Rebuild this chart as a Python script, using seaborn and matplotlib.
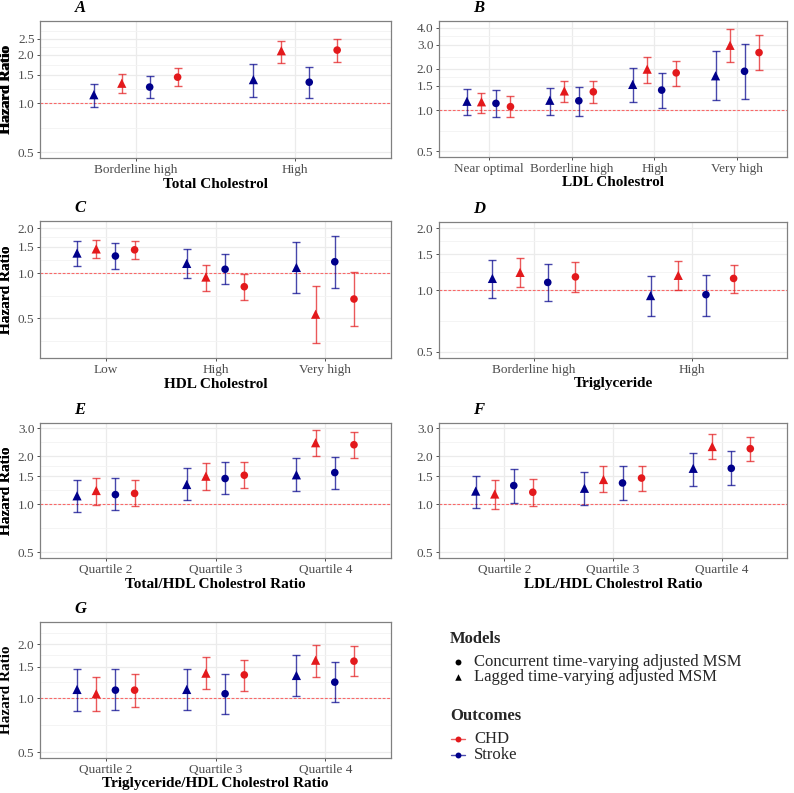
import numpy as np
import pandas as pd
import matplotlib
matplotlib.use("Agg")
import matplotlib.pyplot as plt
import seaborn as sns
from matplotlib.ticker import FixedLocator, FixedFormatter, NullFormatter

sns.set_theme(style="white")
plt.rcParams['font.family'] = ['Liberation Serif', 'DejaVu Serif']

# ---------------- data ----------------
# series order inside each category (left -> right)
SERIES_OUTCOME = ["Stroke", "CHD", "Stroke", "CHD"]
SERIES_MODEL = ["Lagged", "Lagged", "Concurrent", "Concurrent"]

# Panel A: Total Cholestrol
A_cats = ["Borderline high", "High"]
A_est = [[1.13, 1.33, 1.26, 1.45], [1.40, 2.11, 1.35, 2.13]]
A_lo = [[0.95, 1.16, 1.08, 1.28], [1.09, 1.77, 1.08, 1.80]]
A_hi = [[1.32, 1.51, 1.47, 1.65], [1.74, 2.44, 1.68, 2.51]]

# Panel B: LDL Cholestrol
B_cats = ["Near optimal", "Borderline high", "High", "Very high"]
B_est = [[1.16, 1.15, 1.12, 1.06], [1.18, 1.38, 1.17, 1.36],
         [1.54, 1.99, 1.40, 1.87], [1.78, 2.97, 1.92, 2.63]]
B_lo = [[0.92, 0.95, 0.89, 0.89], [0.92, 1.14, 0.91, 1.12],
        [1.15, 1.59, 1.03, 1.51], [1.18, 2.25, 1.21, 1.95]]
B_hi = [[1.43, 1.34, 1.40, 1.27], [1.46, 1.64, 1.48, 1.63],
        [2.04, 2.43, 1.86, 2.29], [2.69, 3.89, 3.06, 3.55]]

# Panel C: HDL Cholestrol
C_cats = ["Low", "High", "Very high"]
C_est = [[1.36, 1.45, 1.30, 1.43], [1.16, 0.94, 1.06, 0.81], [1.09, 0.53, 1.19, 0.67]]
C_lo = [[1.12, 1.26, 1.06, 1.24], [0.92, 0.76, 0.84, 0.66], [0.73, 0.34, 0.79, 0.44]]
C_hi = [[1.64, 1.66, 1.58, 1.63], [1.44, 1.13, 1.34, 0.99], [1.61, 0.82, 1.78, 1.01]]

# Panel D: Triglyceride
D_cats = ["Borderline high", "High"]
D_est = [[1.14, 1.22, 1.09, 1.16], [0.94, 1.18, 0.95, 1.14]]
D_lo = [[0.91, 1.03, 0.88, 0.98], [0.75, 1.00, 0.75, 0.97]]
D_hi = [[1.40, 1.43, 1.34, 1.37], [1.17, 1.39, 1.18, 1.33]]

# Panel E: Total/HDL Cholestrol Ratio
E_cats = ["Quartile 2", "Quartile 3", "Quartile 4"]
E_est = [[1.13, 1.22, 1.15, 1.17], [1.33, 1.50, 1.45, 1.52], [1.53, 2.43, 1.58, 2.36]]
E_lo = [[0.89, 0.99, 0.92, 0.97], [1.06, 1.23, 1.16, 1.26], [1.22, 2.01, 1.25, 1.96]]
E_hi = [[1.43, 1.47, 1.46, 1.43], [1.68, 1.82, 1.84, 1.85], [1.94, 2.92, 1.98, 2.82]]

# Panel F: LDL/HDL Cholestrol Ratio
F_cats = ["Quartile 2", "Quartile 3", "Quartile 4"]
F_est = [[1.21, 1.16, 1.31, 1.19], [1.26, 1.43, 1.36, 1.46], [1.68, 2.30, 1.68, 2.23]]
F_lo = [[0.95, 0.94, 1.02, 0.98], [0.99, 1.19, 1.06, 1.21], [1.31, 1.91, 1.32, 1.87]]
F_hi = [[1.51, 1.41, 1.67, 1.45], [1.60, 1.73, 1.73, 1.74], [2.11, 2.74, 2.15, 2.65]]

# Panel G: Triglyceride/HDL Cholestrol Ratio
G_cats = ["Quartile 2", "Quartile 3", "Quartile 4"]
G_est = [[1.12, 1.06, 1.11, 1.11], [1.12, 1.38, 1.06, 1.35], [1.34, 1.63, 1.23, 1.61]]
G_lo = [[0.85, 0.85, 0.86, 0.90], [0.86, 1.12, 0.82, 1.10], [1.03, 1.32, 0.95, 1.33]]
G_hi = [[1.46, 1.32, 1.45, 1.37], [1.45, 1.69, 1.36, 1.64], [1.75, 1.98, 1.59, 1.95]]

COLORS = {"CHD": "#E3191C", "Stroke": "#00008B"}
MARKERS = {"Concurrent": "o", "Lagged": "^"}
MSIZES = {"Concurrent": 30, "Lagged": 44}

W, H = 794, 793
fig = plt.figure(figsize=(W / 100, H / 100), dpi=100)
fig.patch.set_facecolor("white")


def add_ax(l, t, r, b):
    return fig.add_axes([l / W, 1 - b / H, (r - l) / W, (b - t) / H])


panels = [
    ("A", A_cats, A_est, A_lo, A_hi, "Total Cholestrol", (40, 21, 391, 158), (0.46, 3.22), [0.5, 1, 1.5, 2, 2.5]),
    ("B", B_cats, B_est, B_lo, B_hi, "LDL Cholestrol", (439, 21, 787, 157), (0.455, 4.47), [0.5, 1, 1.5, 2, 3, 4]),
    ("C", C_cats, C_est, C_lo, C_hi, "HDL Cholestrol", (40, 221, 391, 358), (0.27, 2.23), [0.5, 1, 1.5, 2]),
    ("D", D_cats, D_est, D_lo, D_hi, "Triglyceride", (439, 222, 787, 358), (0.466, 2.15), [0.5, 1, 1.5, 2]),
    ("E", E_cats, E_est, E_lo, E_hi, "Total/HDL Cholestrol Ratio", (40, 423, 391, 558), (0.461, 3.23), [0.5, 1, 1.5, 2, 3]),
    ("F", F_cats, F_est, F_lo, F_hi, "LDL/HDL Cholestrol Ratio", (439, 423, 787, 558), (0.461, 3.23), [0.5, 1, 1.5, 2, 3]),
    ("G", G_cats, G_est, G_lo, G_hi, "Triglyceride/HDL Cholestrol Ratio", (40, 622, 391, 758), (0.465, 2.66), [0.5, 1, 1.5, 2]),
]

DODGE = 0.7
offsets = [(-DODGE / 2 + DODGE / 8 + i * DODGE / 4) for i in range(4)]

for letter, cats, est, lo, hi, xtitle, box, ylim, ticks in panels:
    l, t, r, b = box
    ax = add_ax(l, t, r, b)
    rows = []
    for ci, cat in enumerate(cats):
        for si in range(4):
            rows.append(dict(category=cat, x=ci + 1 + offsets[si], outcome=SERIES_OUTCOME[si],
                             model=SERIES_MODEL[si], hr=est[ci][si], lo=lo[ci][si], hi=hi[ci][si]))
    df = pd.DataFrame(rows)

    ax.set_yscale("log")
    ax.set_ylim(*ylim)
    ax.set_xlim(0.4, len(cats) + 0.6)

    # grid
    lt = np.log(ticks)
    minors = list(np.exp((lt[:-1] + lt[1:]) / 2))
    minors.append(np.exp(lt[0] - (lt[1] - lt[0]) / 2))
    minors.append(np.exp(lt[-1] + (lt[-1] - lt[-2]) / 2))
    ax.yaxis.set_major_locator(FixedLocator(ticks))
    ax.yaxis.set_major_formatter(FixedFormatter([f"{v:.1f}" for v in ticks]))
    ax.yaxis.set_minor_locator(FixedLocator(minors))
    ax.yaxis.set_minor_formatter(NullFormatter())
    ax.set_xticks(range(1, len(cats) + 1))
    ax.set_xticklabels(cats)
    ax.grid(which="major", color="#EBEBEB", lw=0.9, zorder=0)
    ax.grid(which="minor", axis="y", color="#F3F3F3", lw=0.6, zorder=0)
    ax.set_axisbelow(True)
    ax.tick_params(which="minor", length=0)
    ax.tick_params(which="major", length=2.5, width=0.6, color="#333333", labelsize=9.5,
                   labelcolor="#4D4D4D", pad=1.5, direction="out", bottom=True, left=True)
    for sp in ax.spines.values():
        sp.set_color("#808080")
        sp.set_linewidth(0.9)

    ax.axhline(1.0, color="#FF3030", alpha=0.7, lw=0.8, ls=(0, (2.5, 1.5)), zorder=1)

    for _, row in df.iterrows():
        ax.errorbar(row.x, row.hr, yerr=[[row.hr - row.lo], [row.hi - row.hr]], fmt="none",
                    ecolor=COLORS[row.outcome], alpha=0.72, elinewidth=1.0, capsize=3.0,
                    capthick=1.0, zorder=2)

    sns.scatterplot(data=df, x="x", y="hr", hue="outcome", style="model", size="model",
                    sizes=MSIZES, palette=COLORS, markers=MARKERS, linewidth=0,
                    legend=False, ax=ax, zorder=3)
    ax.set_xlabel("")
    ax.set_ylabel("")

    cx = (l + r) / 2
    fig.text(cx / W, 1 - (b + 26) / H, xtitle, ha="center", va="center", fontsize=11,
             fontweight="bold", color="black")
    fig.text(7 / W, 1 - ((t + b) / 2) / H, "Hazard Ratio", ha="center", va="center",
             rotation=90, fontsize=11, fontweight="bold", color="black")
    fig.text((l + 40) / W, 1 - (t - 13) / H, letter, ha="center", va="center", fontsize=12,
             fontweight="bold", fontstyle="italic", color="black")

# ---------------- legend ----------------
lax = fig.add_axes([0, 0, 1, 1], facecolor="none")
lax.set_xlim(0, W)
lax.set_ylim(H, 0)
lax.axis("off")

lax.text(450, 639, "Models", ha="left", va="center", fontsize=12, fontweight="bold")
lax.scatter([458], [662], marker="o", s=18, color="black", linewidths=0)
lax.text(474, 662, "Concurrent time-varying adjusted MSM", ha="left", va="center", fontsize=12)
lax.scatter([458], [677], marker="^", s=22, color="black", linewidths=0)
lax.text(474, 677, "Lagged time-varying adjusted MSM", ha="left", va="center", fontsize=12)

lax.text(450, 716, "Outcomes", ha="left", va="center", fontsize=12, fontweight="bold")
for yy, name in [(739, "CHD"), (755, "Stroke")]:
    lax.plot([451, 465], [yy, yy], color=COLORS[name], lw=1.0, alpha=0.7)
    lax.scatter([458], [yy], marker="o", s=18, color=COLORS[name], linewidths=0)
    lax.text(474, yy, name, ha="left", va="center", fontsize=12)

fig.savefig("out.png", dpi=100, facecolor="white")
